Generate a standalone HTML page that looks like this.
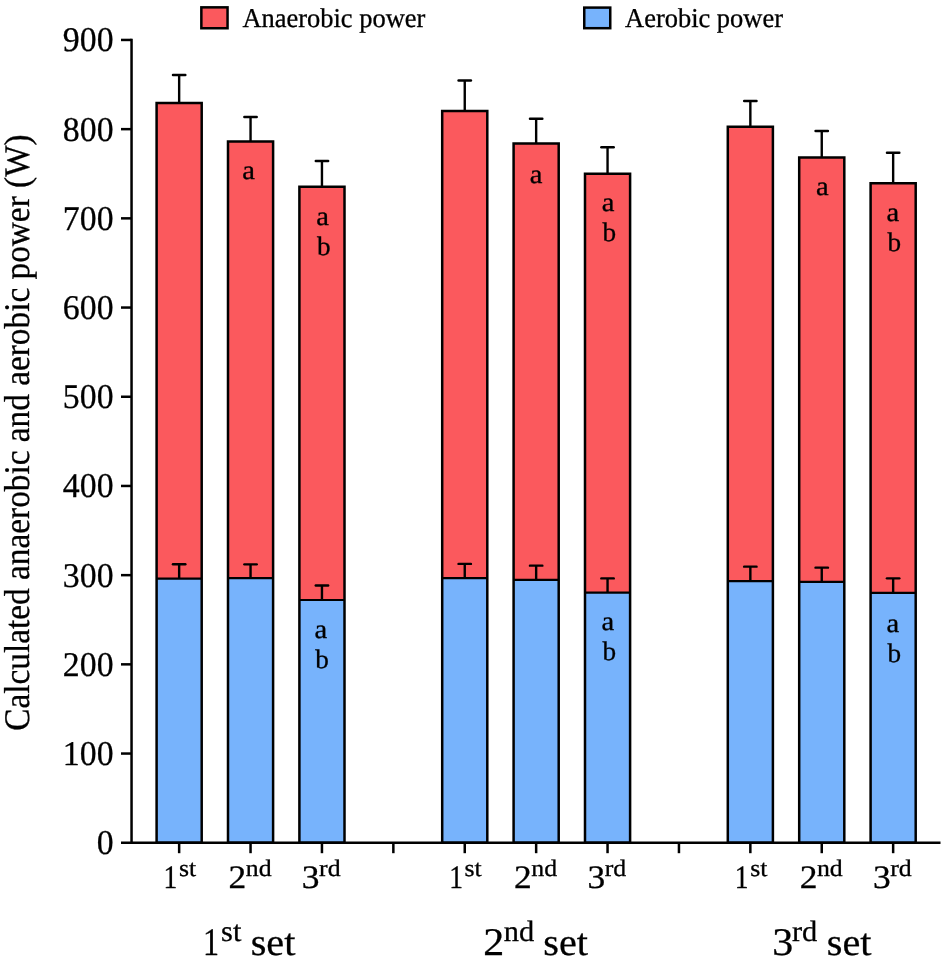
<!DOCTYPE html><html><head><meta charset="utf-8"><title>chart</title>
<style>html,body{margin:0;padding:0;background:#fff;}svg{display:block;will-change:transform;}text{font-family:"Liberation Serif",serif;fill:#000;stroke:#000;stroke-width:0.3px;text-rendering:geometricPrecision;}</style></head><body>
<svg width="945" height="961" viewBox="0 0 945 961">
<rect width="945" height="961" fill="#fff"/>
<rect x="156.60" y="103" width="45.1" height="475.60" fill="#fb595d"/>
<rect x="156.60" y="578.6" width="45.1" height="264.15" fill="#77b3fc"/>
<path d="M156.60 578.6 H201.70" stroke="#000" stroke-width="2.2"/>
<rect x="156.60" y="103" width="45.1" height="739.75" fill="none" stroke="#000" stroke-width="2.5"/>
<path d="M179.15 103 V75 " stroke="#000" stroke-width="2.4" fill="none"/><path d="M172.95 75 H185.35" stroke="#000" stroke-width="2.4" stroke-linecap="round" fill="none"/>
<path d="M179.15 578.6 V564.25 " stroke="#000" stroke-width="2.4" fill="none"/><path d="M172.95 564.25 H185.35" stroke="#000" stroke-width="2.4" stroke-linecap="round" fill="none"/>
<rect x="228.00" y="141.5" width="45.1" height="436.60" fill="#fb595d"/>
<rect x="228.00" y="578.1" width="45.1" height="264.65" fill="#77b3fc"/>
<path d="M228.00 578.1 H273.10" stroke="#000" stroke-width="2.2"/>
<rect x="228.00" y="141.5" width="45.1" height="701.25" fill="none" stroke="#000" stroke-width="2.5"/>
<path d="M250.55 141.5 V117 " stroke="#000" stroke-width="2.4" fill="none"/><path d="M244.35 117 H256.75" stroke="#000" stroke-width="2.4" stroke-linecap="round" fill="none"/>
<path d="M250.55 578.1 V564.35 " stroke="#000" stroke-width="2.4" fill="none"/><path d="M244.35 564.35 H256.75" stroke="#000" stroke-width="2.4" stroke-linecap="round" fill="none"/>
<rect x="299.40" y="186.75" width="45.1" height="413.25" fill="#fb595d"/>
<rect x="299.40" y="600.0" width="45.1" height="242.75" fill="#77b3fc"/>
<path d="M299.40 600.0 H344.50" stroke="#000" stroke-width="2.2"/>
<rect x="299.40" y="186.75" width="45.1" height="656.00" fill="none" stroke="#000" stroke-width="2.5"/>
<path d="M321.95 186.75 V161 " stroke="#000" stroke-width="2.4" fill="none"/><path d="M315.75 161 H328.15" stroke="#000" stroke-width="2.4" stroke-linecap="round" fill="none"/>
<path d="M321.95 600.0 V585.5 " stroke="#000" stroke-width="2.4" fill="none"/><path d="M315.75 585.5 H328.15" stroke="#000" stroke-width="2.4" stroke-linecap="round" fill="none"/>
<rect x="442.20" y="111" width="45.1" height="467.10" fill="#fb595d"/>
<rect x="442.20" y="578.1" width="45.1" height="264.65" fill="#77b3fc"/>
<path d="M442.20 578.1 H487.30" stroke="#000" stroke-width="2.2"/>
<rect x="442.20" y="111" width="45.1" height="731.75" fill="none" stroke="#000" stroke-width="2.5"/>
<path d="M464.75 111 V80.5 " stroke="#000" stroke-width="2.4" fill="none"/><path d="M458.55 80.5 H470.95" stroke="#000" stroke-width="2.4" stroke-linecap="round" fill="none"/>
<path d="M464.75 578.1 V563.9 " stroke="#000" stroke-width="2.4" fill="none"/><path d="M458.55 563.9 H470.95" stroke="#000" stroke-width="2.4" stroke-linecap="round" fill="none"/>
<rect x="513.60" y="143.5" width="45.1" height="436.45" fill="#fb595d"/>
<rect x="513.60" y="579.95" width="45.1" height="262.80" fill="#77b3fc"/>
<path d="M513.60 579.95 H558.70" stroke="#000" stroke-width="2.2"/>
<rect x="513.60" y="143.5" width="45.1" height="699.25" fill="none" stroke="#000" stroke-width="2.5"/>
<path d="M536.15 143.5 V118.75 " stroke="#000" stroke-width="2.4" fill="none"/><path d="M529.95 118.75 H542.35" stroke="#000" stroke-width="2.4" stroke-linecap="round" fill="none"/>
<path d="M536.15 579.95 V565.65 " stroke="#000" stroke-width="2.4" fill="none"/><path d="M529.95 565.65 H542.35" stroke="#000" stroke-width="2.4" stroke-linecap="round" fill="none"/>
<rect x="585.00" y="173.75" width="45.1" height="418.90" fill="#fb595d"/>
<rect x="585.00" y="592.65" width="45.1" height="250.10" fill="#77b3fc"/>
<path d="M585.00 592.65 H630.10" stroke="#000" stroke-width="2.2"/>
<rect x="585.00" y="173.75" width="45.1" height="669.00" fill="none" stroke="#000" stroke-width="2.5"/>
<path d="M607.55 173.75 V147.25 " stroke="#000" stroke-width="2.4" fill="none"/><path d="M601.35 147.25 H613.75" stroke="#000" stroke-width="2.4" stroke-linecap="round" fill="none"/>
<path d="M607.55 592.65 V578.4 " stroke="#000" stroke-width="2.4" fill="none"/><path d="M601.35 578.4 H613.75" stroke="#000" stroke-width="2.4" stroke-linecap="round" fill="none"/>
<rect x="727.80" y="126.75" width="45.1" height="454.30" fill="#fb595d"/>
<rect x="727.80" y="581.05" width="45.1" height="261.70" fill="#77b3fc"/>
<path d="M727.80 581.05 H772.90" stroke="#000" stroke-width="2.2"/>
<rect x="727.80" y="126.75" width="45.1" height="716.00" fill="none" stroke="#000" stroke-width="2.5"/>
<path d="M750.35 126.75 V101 " stroke="#000" stroke-width="2.4" fill="none"/><path d="M744.15 101 H756.55" stroke="#000" stroke-width="2.4" stroke-linecap="round" fill="none"/>
<path d="M750.35 581.05 V566.65 " stroke="#000" stroke-width="2.4" fill="none"/><path d="M744.15 566.65 H756.55" stroke="#000" stroke-width="2.4" stroke-linecap="round" fill="none"/>
<rect x="799.20" y="157.5" width="45.1" height="424.40" fill="#fb595d"/>
<rect x="799.20" y="581.9" width="45.1" height="260.85" fill="#77b3fc"/>
<path d="M799.20 581.9 H844.30" stroke="#000" stroke-width="2.2"/>
<rect x="799.20" y="157.5" width="45.1" height="685.25" fill="none" stroke="#000" stroke-width="2.5"/>
<path d="M821.75 157.5 V131 " stroke="#000" stroke-width="2.4" fill="none"/><path d="M815.55 131 H827.95" stroke="#000" stroke-width="2.4" stroke-linecap="round" fill="none"/>
<path d="M821.75 581.9 V567.65 " stroke="#000" stroke-width="2.4" fill="none"/><path d="M815.55 567.65 H827.95" stroke="#000" stroke-width="2.4" stroke-linecap="round" fill="none"/>
<rect x="870.60" y="183.25" width="45.1" height="409.70" fill="#fb595d"/>
<rect x="870.60" y="592.95" width="45.1" height="249.80" fill="#77b3fc"/>
<path d="M870.60 592.95 H915.70" stroke="#000" stroke-width="2.2"/>
<rect x="870.60" y="183.25" width="45.1" height="659.50" fill="none" stroke="#000" stroke-width="2.5"/>
<path d="M893.15 183.25 V152.75 " stroke="#000" stroke-width="2.4" fill="none"/><path d="M886.95 152.75 H899.35" stroke="#000" stroke-width="2.4" stroke-linecap="round" fill="none"/>
<path d="M893.15 592.95 V578.35 " stroke="#000" stroke-width="2.4" fill="none"/><path d="M886.95 578.35 H899.35" stroke="#000" stroke-width="2.4" stroke-linecap="round" fill="none"/>
<path d="M131.55 38.70 V842.75" stroke="#000" stroke-width="2.5" fill="none"/>
<path d="M121 842.75 H940.5" stroke="#000" stroke-width="2.5" fill="none"/>
<path d="M121 753.55 H131.55" stroke="#000" stroke-width="2.5"/>
<path d="M121 664.35 H131.55" stroke="#000" stroke-width="2.5"/>
<path d="M121 575.15 H131.55" stroke="#000" stroke-width="2.5"/>
<path d="M121 485.95 H131.55" stroke="#000" stroke-width="2.5"/>
<path d="M121 396.75 H131.55" stroke="#000" stroke-width="2.5"/>
<path d="M121 307.55 H131.55" stroke="#000" stroke-width="2.5"/>
<path d="M121 218.35 H131.55" stroke="#000" stroke-width="2.5"/>
<path d="M121 129.15 H131.55" stroke="#000" stroke-width="2.5"/>
<path d="M121 39.95 H131.55" stroke="#000" stroke-width="2.5"/>
<text transform="translate(113.60 854.10) scale(0.975 1.0)" font-size="34.7" text-anchor="end">0</text>
<text transform="translate(113.60 764.90) scale(0.975 1.0)" font-size="34.7" text-anchor="end">100</text>
<text transform="translate(113.60 675.70) scale(0.975 1.0)" font-size="34.7" text-anchor="end">200</text>
<text transform="translate(113.60 586.50) scale(0.975 1.0)" font-size="34.7" text-anchor="end">300</text>
<text transform="translate(113.60 497.30) scale(0.975 1.0)" font-size="34.7" text-anchor="end">400</text>
<text transform="translate(113.60 408.10) scale(0.975 1.0)" font-size="34.7" text-anchor="end">500</text>
<text transform="translate(113.60 318.90) scale(0.975 1.0)" font-size="34.7" text-anchor="end">600</text>
<text transform="translate(113.60 229.70) scale(0.975 1.0)" font-size="34.7" text-anchor="end">700</text>
<text transform="translate(113.60 140.50) scale(0.975 1.0)" font-size="34.7" text-anchor="end">800</text>
<text transform="translate(113.60 51.30) scale(0.975 1.0)" font-size="34.7" text-anchor="end">900</text>
<path d="M179.15 842.75 V853.2" stroke="#000" stroke-width="2.5"/>
<path d="M250.55 842.75 V853.2" stroke="#000" stroke-width="2.5"/>
<path d="M321.95 842.75 V853.2" stroke="#000" stroke-width="2.5"/>
<path d="M393.35 842.75 V853.2" stroke="#000" stroke-width="2.5"/>
<path d="M464.75 842.75 V853.2" stroke="#000" stroke-width="2.5"/>
<path d="M536.15 842.75 V853.2" stroke="#000" stroke-width="2.5"/>
<path d="M607.55 842.75 V853.2" stroke="#000" stroke-width="2.5"/>
<path d="M678.95 842.75 V853.2" stroke="#000" stroke-width="2.5"/>
<path d="M750.35 842.75 V853.2" stroke="#000" stroke-width="2.5"/>
<path d="M821.75 842.75 V853.2" stroke="#000" stroke-width="2.5"/>
<path d="M893.15 842.75 V853.2" stroke="#000" stroke-width="2.5"/>
<text transform="translate(163.60 888.10) scale(0.84 1.0)" font-size="32.8" text-anchor="start">1</text>
<text transform="translate(178.95 876.35) scale(1.088 1.0)" font-size="23.7" text-anchor="start">st</text>
<text transform="translate(228.50 888.10) scale(1.08 1.0)" font-size="32.8" text-anchor="start">2</text>
<text transform="translate(245.75 876.35) scale(1.088 1.0)" font-size="23.7" text-anchor="start">nd</text>
<text transform="translate(301.85 888.10) scale(1.08 1.0)" font-size="32.8" text-anchor="start">3</text>
<text transform="translate(319.05 876.35) scale(1.088 1.0)" font-size="23.7" text-anchor="start">rd</text>
<text transform="translate(449.20 888.10) scale(0.84 1.0)" font-size="32.8" text-anchor="start">1</text>
<text transform="translate(464.55 876.35) scale(1.088 1.0)" font-size="23.7" text-anchor="start">st</text>
<text transform="translate(514.10 888.10) scale(1.08 1.0)" font-size="32.8" text-anchor="start">2</text>
<text transform="translate(531.35 876.35) scale(1.088 1.0)" font-size="23.7" text-anchor="start">nd</text>
<text transform="translate(587.45 888.10) scale(1.08 1.0)" font-size="32.8" text-anchor="start">3</text>
<text transform="translate(604.65 876.35) scale(1.088 1.0)" font-size="23.7" text-anchor="start">rd</text>
<text transform="translate(734.80 888.10) scale(0.84 1.0)" font-size="32.8" text-anchor="start">1</text>
<text transform="translate(750.15 876.35) scale(1.088 1.0)" font-size="23.7" text-anchor="start">st</text>
<text transform="translate(799.70 888.10) scale(1.08 1.0)" font-size="32.8" text-anchor="start">2</text>
<text transform="translate(816.95 876.35) scale(1.088 1.0)" font-size="23.7" text-anchor="start">nd</text>
<text transform="translate(873.05 888.10) scale(1.08 1.0)" font-size="32.8" text-anchor="start">3</text>
<text transform="translate(890.25 876.35) scale(1.088 1.0)" font-size="23.7" text-anchor="start">rd</text>
<text transform="translate(203.05 955.20) scale(0.82 1.0)" font-size="39.2" text-anchor="start">1</text>
<text transform="translate(221.10 941.10) scale(1.03 1.0)" font-size="29.5" text-anchor="start">st</text>
<text transform="translate(250.65 955.20) scale(1.05 1.0)" font-size="38.3" text-anchor="start">set</text>
<text transform="translate(483.15 955.20) scale(1.07 1.0)" font-size="39.2" text-anchor="start">2</text>
<text transform="translate(503.80 941.10) scale(1.03 1.0)" font-size="29.5" text-anchor="start">nd</text>
<text transform="translate(543.35 955.20) scale(1.05 1.0)" font-size="38.3" text-anchor="start">set</text>
<text transform="translate(772.25 955.20) scale(1.07 1.0)" font-size="39.2" text-anchor="start">3</text>
<text transform="translate(791.95 941.10) scale(1.03 1.0)" font-size="29.5" text-anchor="start">rd</text>
<text transform="translate(826.85 955.20) scale(1.05 1.0)" font-size="38.3" text-anchor="start">set</text>
<text transform="translate(242.14 179.45) scale(1.07 1.0)" font-size="26.7" text-anchor="start">a</text>
<text transform="translate(316.27 224.75) scale(1.07 1.0)" font-size="26.7" text-anchor="start">a</text>
<text transform="translate(317.10 254.55) scale(1.02 1.0)" font-size="26.7" text-anchor="start">b</text>
<text transform="translate(529.67 182.95) scale(1.07 1.0)" font-size="26.7" text-anchor="start">a</text>
<text transform="translate(601.64 210.85) scale(1.07 1.0)" font-size="26.7" text-anchor="start">a</text>
<text transform="translate(602.50 241.05) scale(1.02 1.0)" font-size="26.7" text-anchor="start">b</text>
<text transform="translate(816.02 194.75) scale(1.07 1.0)" font-size="26.7" text-anchor="start">a</text>
<text transform="translate(886.53 220.85) scale(1.07 1.0)" font-size="26.7" text-anchor="start">a</text>
<text transform="translate(887.39 250.75) scale(1.02 1.0)" font-size="26.7" text-anchor="start">b</text>
<text transform="translate(314.44 637.85) scale(1.07 1.0)" font-size="26.7" text-anchor="start">a</text>
<text transform="translate(315.30 667.85) scale(1.02 1.0)" font-size="26.7" text-anchor="start">b</text>
<text transform="translate(601.53 629.91) scale(1.07 1.0)" font-size="26.7" text-anchor="start">a</text>
<text transform="translate(602.40 659.85) scale(1.02 1.0)" font-size="26.7" text-anchor="start">b</text>
<text transform="translate(886.53 631.60) scale(1.07 1.0)" font-size="26.7" text-anchor="start">a</text>
<text transform="translate(887.40 661.75) scale(1.02 1.0)" font-size="26.7" text-anchor="start">b</text>
<rect x="201.35" y="7.35" width="26.2" height="20.9" fill="#fb595d" stroke="#000" stroke-width="2.5"/>
<text transform="translate(242.40 26.55) scale(0.973 1.0)" font-size="27.2" text-anchor="start">Anaerobic power</text>
<rect x="584.25" y="7.6" width="26" height="20.6" fill="#77b3fc" stroke="#000" stroke-width="2.5"/>
<text transform="translate(625.05 26.55) scale(0.973 1.0)" font-size="27.2" text-anchor="start">Aerobic power</text>
<text transform="translate(29.20 432.50) rotate(-90) scale(0.925 1.0)" font-size="36" text-anchor="middle">Calculated anaerobic and aerobic power (W)</text>
</svg></body></html>
